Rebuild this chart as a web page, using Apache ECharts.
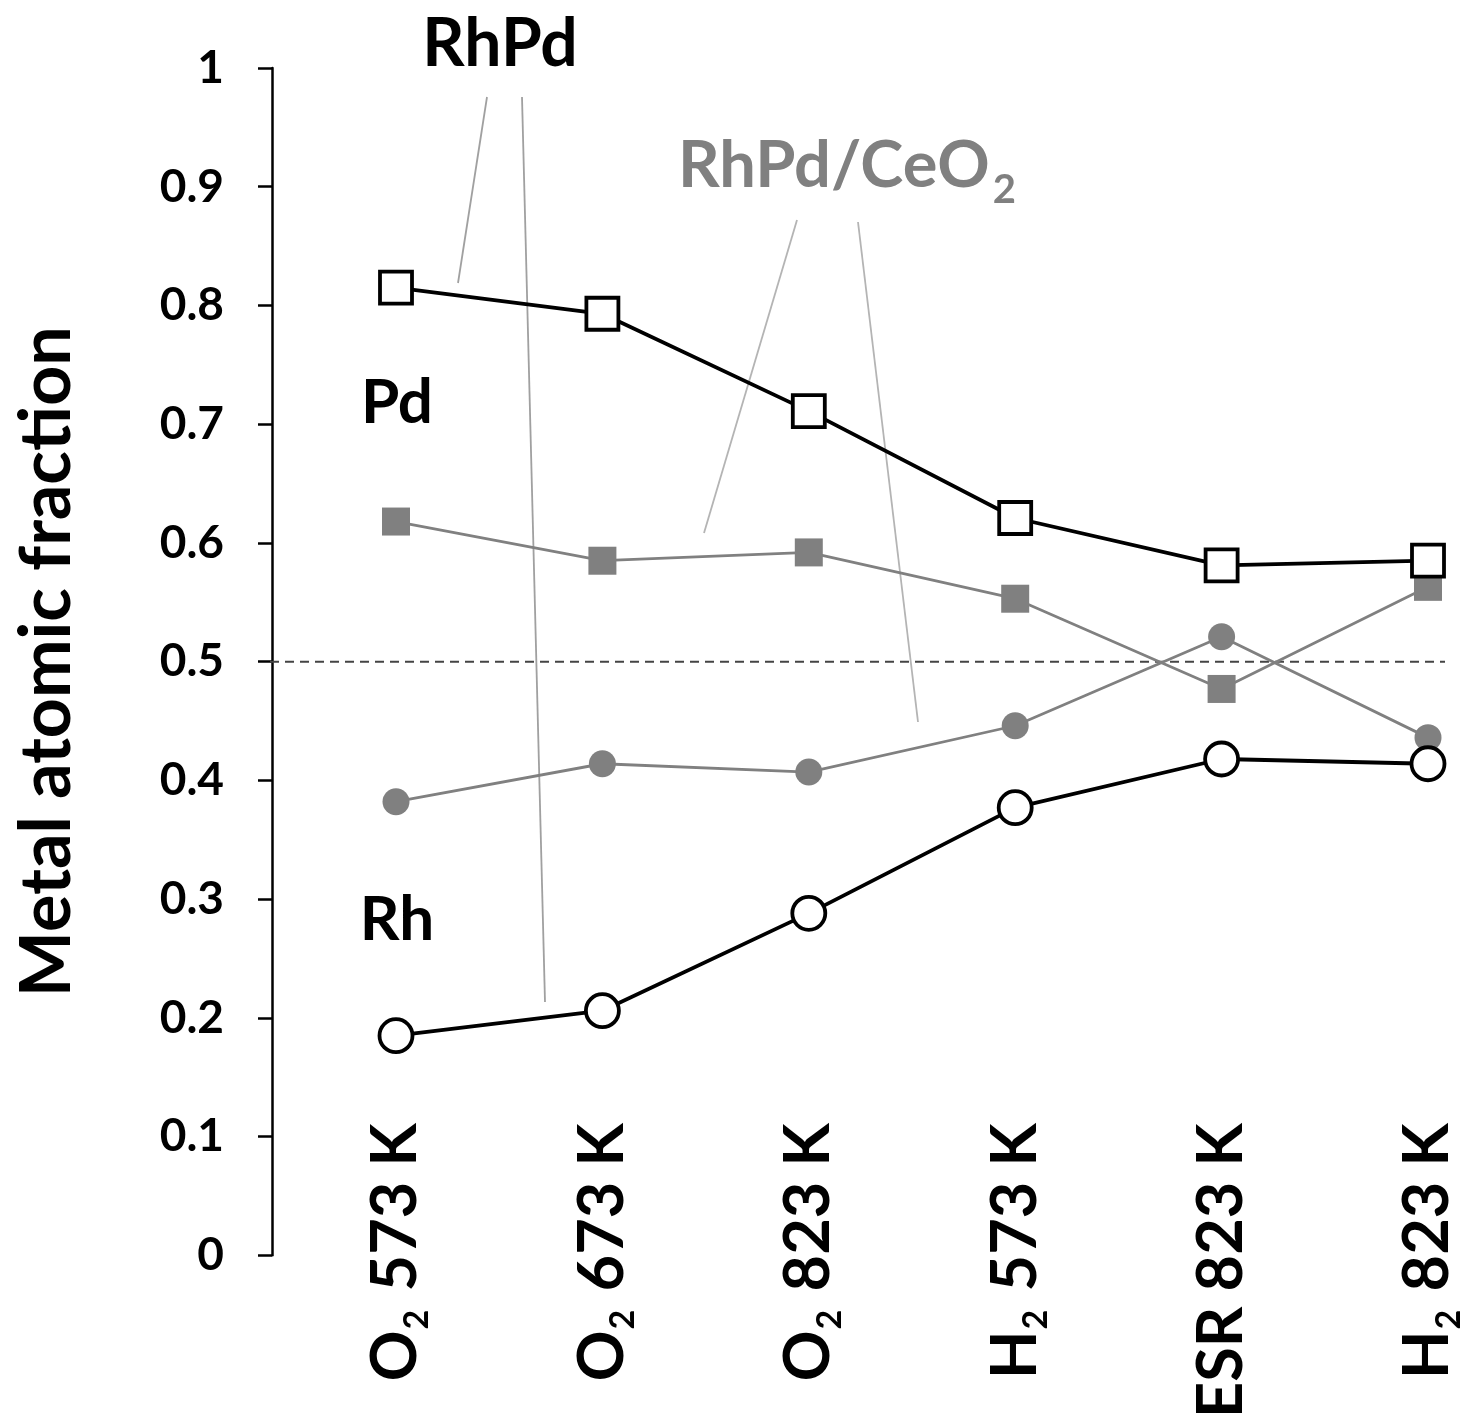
<!DOCTYPE html>
<html>
<head>
<meta charset="utf-8">
<script src="https://cdn.jsdelivr.net/npm/echarts@6/dist/echarts.min.js"></script>
<style>
html,body{margin:0;padding:0;background:#fff;}
#chart{width:1478px;height:1421px;}
</style>
</head>
<body>
<div id="chart"></div>
<script>
// ---- data ----
const categories = ['O₂ 573 K', 'O₂ 673 K', 'O₂ 823 K', 'H₂ 573 K', 'ESR 823 K', 'H₂ 823 K'];
const rhpdPd = [0.815, 0.793, 0.711, 0.621, 0.581, 0.585];
const rhpdRh = [0.185, 0.206, 0.288, 0.377, 0.418, 0.414];
const ceo2Pd = [0.618, 0.585, 0.592, 0.553, 0.477, 0.563];
const ceo2Rh = [0.382, 0.414, 0.407, 0.446, 0.521, 0.436];
const yTicks = [0, 0.1, 0.2, 0.3, 0.4, 0.5, 0.6, 0.7, 0.8, 0.9, 1];
const refLine = 0.5;

const FONT = 'Lato';
const chart = echarts.init(document.getElementById('chart'), null, {renderer: 'canvas'});

function catLabel(v) {
  const parts = v.split('₂');
  if (parts.length < 2) return '{t|' + v + '}';
  return '{t|' + parts[0] + '}{s|2}{t|' + parts[1] + '}';
}

const gray = '#808080';

const option = {
  backgroundColor: '#fff',
  animation: false,
  grid: {left: 396, right: 50, top: 68, bottom: 165, containLabel: false},
  xAxis: {
    type: 'category',
    data: categories,
    boundaryGap: false,
    axisLine: {show: false},
    axisTick: {show: false},
    splitLine: {show: false},
    axisLabel: {
      rotate: 90,
      margin: -132,
      interval: 0,
      formatter: catLabel,
      rich: {
        t: {fontFamily: FONT, fontWeight: 'bold', fontSize: 63, color: '#000', lineHeight: 64},
        s: {fontFamily: FONT, fontWeight: 'bold', fontSize: 34, color: '#000', lineHeight: 30, verticalAlign: 'top', padding: [36, 3, 0, 1]}
      }
    }
  },
  yAxis: {
    type: 'value',
    min: 0, max: 1, interval: 0.1,
    offset: 124,
    name: 'Metal atomic fraction',
    nameLocation: 'middle',
    nameRotate: 90,
    nameGap: 190,
    nameTextStyle: {fontFamily: FONT, fontWeight: 'bold', fontSize: 70, color: '#000'},
    axisLine: {show: true, lineStyle: {color: '#000', width: 2.5}},
    axisTick: {show: true, inside: false, length: 14, lineStyle: {color: '#000', width: 2.5}},
    splitLine: {show: false},
    axisLabel: {
      margin: 48,
      fontFamily: FONT, fontWeight: 'bold', fontSize: 46, color: '#000',
      formatter: function (v) {
        const t = yTicks.find(x => Math.abs(x - v) < 1e-6);
        if (t === undefined) return '';
        return (t === 0 || t === 1) ? String(t) : t.toFixed(1);
      }
    }
  },
  series: [
    {
      name: 'RhPd/CeO2 Pd', type: 'line', data: ceo2Pd,
      symbol: 'rect', symbolSize: 28,
      itemStyle: {color: gray, borderWidth: 0},
      lineStyle: {color: gray, width: 2.8},
      z: 2
    },
    {
      name: 'RhPd/CeO2 Rh', type: 'line', data: ceo2Rh,
      symbol: 'circle', symbolSize: 27,
      itemStyle: {color: gray, borderWidth: 0},
      lineStyle: {color: gray, width: 2.8},
      z: 2
    },
    {
      name: 'RhPd Pd', type: 'line', data: rhpdPd,
      symbol: 'rect', symbolSize: 32,
      itemStyle: {color: '#fff', borderColor: '#000', borderWidth: 3.8},
      lineStyle: {color: '#000', width: 3.8},
      z: 3
    },
    {
      name: 'RhPd Rh', type: 'line', data: rhpdRh,
      symbol: 'circle', symbolSize: 33,
      itemStyle: {color: '#fff', borderColor: '#000', borderWidth: 3.8},
      lineStyle: {color: '#000', width: 3.8},
      z: 3
    }
  ]
};
chart.setOption(option);

// reference dashed line at 0.5 and annotations
const y05 = chart.convertToPixel({yAxisIndex: 0}, refLine);
const annColor = '#a0a0a0';
chart.setOption({
  graphic: [
    {type: 'line', z: 1, shape: {x1: 270, y1: y05, x2: 1445, y2: y05},
     style: {stroke: '#444', lineWidth: 2, lineDash: [9, 6]}},
    {type: 'line', z: 1, shape: {x1: 487, y1: 97, x2: 458, y2: 283}, style: {stroke: annColor, lineWidth: 1.8}},
    {type: 'line', z: 1, shape: {x1: 522, y1: 97, x2: 545, y2: 1002}, style: {stroke: annColor, lineWidth: 1.8}},
    {type: 'line', z: 1, shape: {x1: 797, y1: 220, x2: 704, y2: 533}, style: {stroke: '#b4b4b4', lineWidth: 1.8}},
    {type: 'line', z: 1, shape: {x1: 858, y1: 222, x2: 918, y2: 722}, style: {stroke: '#b4b4b4', lineWidth: 1.8}},
    {type: 'text', z: 5, x: 500, y: 45,
     style: {text: 'RhPd', fontFamily: FONT, fontWeight: 'bold', fontSize: 66, fill: '#000', align: 'center', verticalAlign: 'middle'}},
    {type: 'text', z: 5, x: 847, y: 166,
     style: {text: '{t|RhPd/CeO}{s|2}', align: 'center', verticalAlign: 'middle',
       rich: {
         t: {fontFamily: FONT, fontWeight: 'bold', fontSize: 65, fill: gray, lineHeight: 66},
         s: {fontFamily: FONT, fontWeight: 'bold', fontSize: 40, fill: gray, lineHeight: 30, verticalAlign: 'top', padding: [37, 0, 0, 3]}
       }}},
    {type: 'text', z: 5, x: 397, y: 403,
     style: {text: 'Pd', fontFamily: FONT, fontWeight: 'bold', fontSize: 62, fill: '#000', align: 'center', verticalAlign: 'middle'}},
    {type: 'text', z: 5, x: 397, y: 920,
     style: {text: 'Rh', fontFamily: FONT, fontWeight: 'bold', fontSize: 62, fill: '#000', align: 'center', verticalAlign: 'middle'}}
  ]
});
</script>
</body>
</html>
